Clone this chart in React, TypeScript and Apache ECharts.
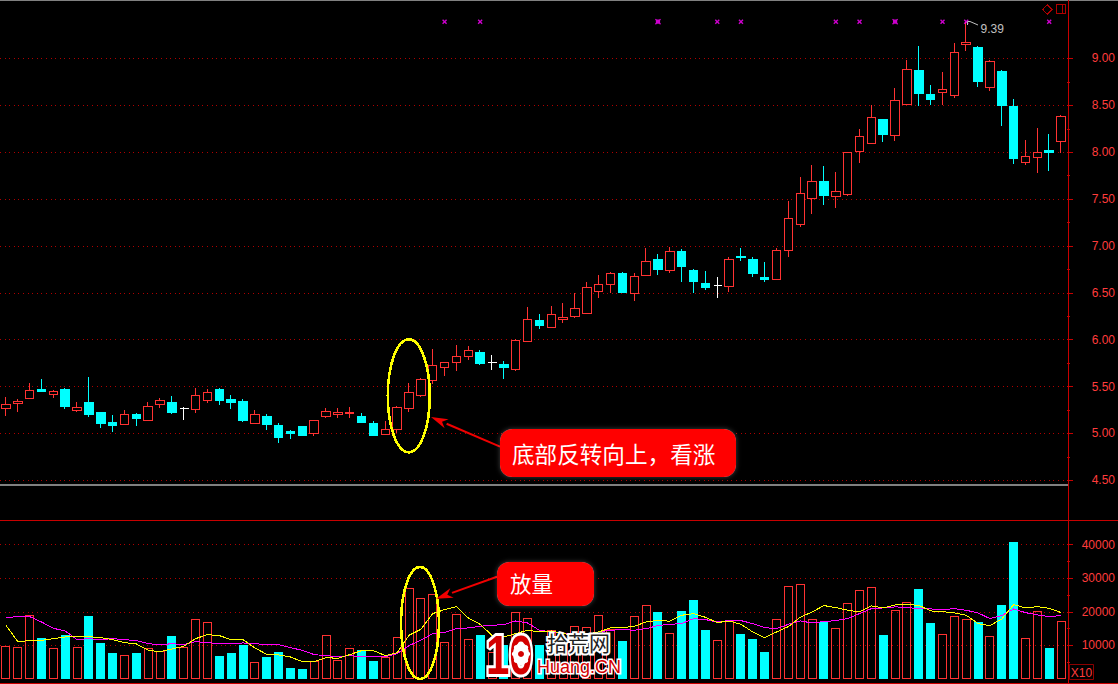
import React, { useEffect, useRef } from "react";
import * as echarts from "echarts";

// Price data (90 sessions)
const opens = [
  5.262, 5.316, 5.376, 5.472, 5.411, 5.472, 5.248, 5.333, 5.227, 5.121,
  5.099, 5.206, 5.142, 5.312, 5.333, 5.266, 5.259, 5.355, 5.472, 5.365,
  5.344, 5.11, 5.184, 5.089, 5.025, 5.078, 5.0, 5.177, 5.199, 5.21,
  5.184, 5.106, 4.986, 5.043, 5.266, 5.4, 5.564, 5.702, 5.755, 5.819,
  5.865, 5.755, 5.738, 5.677, 5.986, 6.206, 6.135, 6.22, 6.252, 6.284,
  6.518, 6.592, 6.706, 6.496, 6.688, 6.855, 6.741, 6.94, 6.738, 6.6,
  6.574, 6.57, 6.887, 6.855, 6.663, 6.645, 6.954, 7.23, 7.507, 7.686,
  7.529, 7.546, 8.011, 8.096, 8.35, 8.182, 8.504, 8.875, 8.618, 8.632,
  8.6, 9.146, 9.121, 8.686, 8.864, 8.489, 7.893, 7.946, 8.014, 8.118,
];
const closes = [
  5.312, 5.344, 5.457, 5.447, 5.447, 5.291, 5.277, 5.206, 5.11, 5.089,
  5.206, 5.163, 5.291, 5.355, 5.227, 5.266, 5.408, 5.44, 5.355, 5.333,
  5.142, 5.206, 5.099, 4.961, 5.004, 4.982, 5.138, 5.234, 5.223, 5.22,
  5.113, 4.982, 5.043, 5.277, 5.436, 5.574, 5.723, 5.755, 5.819, 5.883,
  5.748, 5.755, 5.699, 5.989, 6.213, 6.152, 6.266, 6.234, 6.33, 6.553,
  6.585, 6.702, 6.504, 6.67, 6.83, 6.748, 6.936, 6.78, 6.62, 6.557,
  6.574, 6.851, 6.88, 6.706, 6.642, 6.947, 7.298, 7.564, 7.691, 7.536,
  7.586, 7.996, 8.164, 8.368, 8.189, 8.55, 8.882, 8.629, 8.564, 8.668,
  9.064, 9.171, 8.757, 8.968, 8.5, 7.932, 7.95, 7.993, 8.0, 8.379,
];
const lows = [
  5.184, 5.227, 5.365, 5.44, 5.376, 5.259, 5.227, 5.174, 5.057, 5.014,
  5.099, 5.078, 5.142, 5.27, 5.206, 5.142, 5.216, 5.323, 5.301, 5.259,
  5.121, 5.11, 5.035, 4.897, 4.94, 4.97, 4.975, 5.16, 5.16, 5.16,
  5.113, 4.975, 4.986, 5.0, 5.23, 5.387, 5.525, 5.61, 5.67, 5.78,
  5.727, 5.674, 5.578, 5.667, 5.986, 6.11, 6.135, 6.174, 6.23, 6.284,
  6.443, 6.496, 6.496, 6.418, 6.688, 6.695, 6.716, 6.62, 6.493, 6.525,
  6.45, 6.504, 6.844, 6.674, 6.62, 6.645, 6.887, 7.206, 7.344, 7.44,
  7.4, 7.536, 7.889, 8.096, 8.104, 8.118, 8.504, 8.489, 8.5, 8.5,
  8.575, 9.079, 8.693, 8.65, 8.275, 7.879, 7.868, 7.782, 7.804, 7.996,
];
const highs = [
  5.387, 5.365, 5.535, 5.578, 5.461, 5.482, 5.333, 5.599, 5.227, 5.195,
  5.248, 5.216, 5.333, 5.376, 5.397, 5.28, 5.482, 5.472, 5.482, 5.408,
  5.365, 5.248, 5.206, 5.11, 5.035, 5.08, 5.138, 5.266, 5.266, 5.277,
  5.223, 5.128, 5.128, 5.291, 5.543, 5.596, 5.904, 5.766, 5.947, 5.929,
  5.887, 5.833, 5.77, 6.011, 6.344, 6.27, 6.355, 6.387, 6.493, 6.62,
  6.695, 6.727, 6.727, 6.716, 6.982, 6.918, 6.989, 6.972, 6.759, 6.738,
  6.674, 6.887, 6.982, 6.887, 6.833, 6.982, 7.482, 7.738, 7.865, 7.857,
  7.793, 8.004, 8.25, 8.507, 8.35, 8.682, 8.982, 9.132, 8.714, 8.854,
  9.164, 9.393, 9.132, 8.979, 8.875, 8.564, 8.125, 8.254, 8.189, 8.393,
];

// Volume data
const volumes = [
  9930, 9630, 19165, 12115, 9330, 13000, 9630, 18670, 10625, 7650,
  7250, 7650, 9330, 8440, 12710, 9500, 17970, 17080, 6750, 7650,
  10030, 5160, 6450, 7940, 3180, 2880, 5460, 13200, 5760, 9330,
  8540, 5260, 6550, 12400, 27200, 24200, 25220, 11120, 19460, 12000,
  13000, 7940, 10000, 20060, 18270, 10030, 14500, 11000, 15890, 15500,
  19165, 15000, 11200, 18870, 22140, 19860, 13800, 20160, 23430, 14500,
  11720, 17280, 13300, 11820, 7940, 17970, 27800, 28400, 17970, 16880,
  15290, 22740, 26610, 27510, 13000, 20650, 23040, 26710, 16580, 13500,
  18870, 17970, 16880, 12910, 21950, 40700, 12310, 20360, 9140, 17180,
];
const volumeDown = [
  0, 0, 0, 1, 0, 1, 0, 1, 1, 1,
  0, 1, 0, 0, 1, 0, 0, 0, 1, 1,
  1, 0, 1, 1, 1, 1, 0, 0, 0, 0,
  1, 1, 0, 0, 0, 0, 0, 0, 0, 0,
  1, 0, 1, 0, 0, 1, 0, 0, 0, 0,
  0, 0, 1, 0, 0, 1, 0, 1, 1, 1,
  0, 0, 1, 1, 1, 0, 0, 0, 0, 1,
  0, 0, 0, 0, 1, 0, 0, 1, 1, 0,
  0, 0, 1, 0, 1, 1, 0, 0, 1, 0,
];
const maShort = [
  15990, 11120, 11420, 11520, 12015, 12510, 12610, 12610, 12310, 11720,
  10820, 10430, 8540, 8140, 8940, 9730, 12015, 13200, 12910, 11720,
  11720, 9230, 7350, 7150, 6550, 5160, 5160, 6355, 6160, 7250,
  8440, 8440, 6950, 7845, 13000, 14800, 19460, 20650, 21550, 18170,
  16285, 13000, 12500, 13500, 14500, 14000, 14300, 13500, 13000, 13300,
  14000, 15200, 15290, 15690, 16980, 17480, 17180, 18970, 19460, 18370,
  16780, 17280, 16285, 14000, 12310, 14000, 15590, 18370, 19960, 21850,
  21250, 20460, 19960, 21750, 21150, 22050, 22140, 21950, 20260, 20060,
  19660, 18970, 16480, 15890, 17870, 22140, 21150, 21550, 21050, 19760,
];
const maLong = [
  18270, 18570, 18570, 16980, 15090, 14300, 11720, 12015, 11720, 12015,
  11720, 11420, 10530, 10130, 10530, 10230, 11120, 10820, 10530, 10530,
  10725, 10530, 10230, 10230, 9330, 8540, 7250, 6950, 6650, 6950,
  6650, 6650, 6650, 7550, 9930, 11520, 13500, 13800, 14990, 15190,
  15690, 15990, 16190, 17280, 16680, 14500, 14000, 13500, 13500, 13300,
  14000, 14500, 14700, 14500, 14990, 15890, 16285, 16480, 17970, 17680,
  16980, 17380, 17380, 16480, 15290, 14990, 16285, 17280, 16680, 17080,
  17380, 17970, 19460, 20950, 21150, 21450, 21350, 20850, 20850, 20650,
  20950, 20460, 19660, 17970, 18870, 20850, 19760, 19070, 18570, 18870,
];

// Signal marks along the top
const markerSessions = [37, 40, 55, 60, 62, 70, 72, 75, 79, 81, 88];
const markerStrong = [55, 75];
const markerPrice = 9.393;

// Axis ticks
const priceTicks = [4.5, 5, 5.5, 6, 6.5, 7, 7.5, 8, 8.5, 9];
const priceMinorTicks = [4.75, 5.25, 5.75, 6.25, 6.75, 7.25, 7.75, 8.25, 8.75];
const volumeTicks = [10000, 20000, 30000, 40000];
const volumeMinorTicks = [5000, 15000, 25000, 35000];

const sessions = opens.map((_, i) => String(i));

const RED = "#ff3232";
const CYAN = "#00ffff";
const YELLOW = "#ffff00";
const MAGENTA = "#ff00ff";
const WHITE = "#ffffff";
const AXIS_RED = "#c80000";
const GRID_RED = "#b00000";
const GREY = "#808080";
const LABEL_FONT = "Liberation Sans";
const CJK_FONT = "Noto Sans CJK SC";

const CRISP_CSS = `
#kline svg path[stroke="${RED}"], #kline svg path[stroke="${CYAN}"], #kline svg path[stroke="${WHITE}"],
#kline svg path[stroke="${YELLOW}"], #kline svg path[stroke="${MAGENTA}"], #kline svg path[stroke="${AXIS_RED}"],
#kline svg path[stroke="${GRID_RED}"], #kline svg path[stroke="${GREY}"], #kline svg path[fill="${CYAN}"]
{ shape-rendering: crispEdges; }
`;

const X_PATH =
  "path://M0,2L2,0L5,3L8,0L10,2L7,5L10,8L8,10L5,7L2,10L0,8L3,5Z";
const X_STRONG_PATH =
  "path://M0,1.5L1.5,0L3,1.5H7L8.5,0L10,1.5L8.5,3V7L10,8.5L8.5,10L7,8.5H3L1.5,10L0,8.5L1.5,7V3Z";

const yBase = (
  gridIndex: number,
  min: number,
  max: number,
  ticks: number[],
  length: number,
  main: boolean,
) => ({
  type: "value",
  gridIndex,
  position: "right",
  min,
  max,
  scale: true,
  axisLine: { show: false },
  axisTick: {
    show: true,
    length,
    customValues: ticks,
    lineStyle: { color: AXIS_RED, width: 1 },
  },
  axisLabel: main
    ? {
        show: true,
        customValues: ticks,
        color: "#ff3c3c",
        fontFamily: LABEL_FONT,
        fontSize: 12,
        align: "right",
        margin: 48,
        formatter: (v: number) => (gridIndex === 0 ? v.toFixed(2) : String(v)),
      }
    : { show: false },
  splitLine: main
    ? {
        show: true,
        lineStyle: { color: GRID_RED, type: [1, 3.6], width: 1 },
      }
    : { show: false },
});

function lineEl(x1: number, y1: number, x2: number, y2: number, stroke: string, lineWidth: number, z = 1) {
  return { type: "line", z, silent: true, shape: { x1, y1, x2, y2 }, style: { stroke, lineWidth } };
}

function arrow(x1: number, y1: number, tipX: number, tipY: number, z = 60) {
  const dx = tipX - x1;
  const dy = tipY - y1;
  const len = Math.hypot(dx, dy);
  const ux = dx / len;
  const uy = dy / len;
  const bx = tipX - ux * 17;
  const by = tipY - uy * 17;
  return [
    { type: "line", z, silent: true, shape: { x1, y1, x2: bx, y2: by }, style: { stroke: "#f00000", lineWidth: 2 } },
    {
      type: "polygon",
      z,
      silent: true,
      shape: {
        points: [
          [tipX, tipY],
          [bx - uy * 5, by + ux * 5],
          [tipX - ux * 12, tipY - uy * 12],
          [bx + uy * 5, by - ux * 5],
        ],
      },
      style: { fill: "#f00000" },
    },
  ];
}

function bubble(x: number, y: number, width: number, height: number) {
  return {
    type: "rect",
    z: 70,
    silent: true,
    shape: { x, y, width, height, r: 12 },
    style: { fill: "#ff0000", shadowBlur: 5, shadowColor: "rgba(255,255,255,0.25)" },
  };
}

function buildGraphics() {
  const gearCx = 521;
  const gearCy = 654;
  const gearTeeth = [0, 45, 90, 135, 180, 225, 270, 315].map((deg) => ({
    type: "circle",
    z: 84,
    silent: true,
    shape: {
      cx: gearCx + Math.cos((deg * Math.PI) / 180) * 7,
      cy: gearCy + Math.sin((deg * Math.PI) / 180) * 9.5,
      r: 2.2,
    },
    style: { fill: "#ffffff" },
  }));
  return [
    lineEl(0, 0.5, 1118, 0.5, GREY, 1),
    lineEl(0, 485, 1068, 485, GREY, 2),
    lineEl(0, 520.5, 1118, 520.5, AXIS_RED, 1),
    lineEl(0, 683.5, 1118, 683.5, AXIS_RED, 1),
    lineEl(1068.5, 0, 1068.5, 684, AXIS_RED, 1),

    {
      type: "polygon",
      z: 5,
      silent: true,
      shape: { points: [[1047.3, 4.6], [1052, 9.3], [1047.3, 14], [1042.6, 9.3]] },
      style: { fill: "none", stroke: "#b00000", lineWidth: 1 },
    },
    { type: "rect", z: 5, silent: true, shape: { x: 1056.5, y: 4.5, width: 9, height: 9 }, style: { fill: "none", stroke: "#b00000", lineWidth: 1 } },
    lineEl(1062.5, 4.5, 1062.5, 13.5, "#b00000", 1, 5),

    { type: "rect", z: 5, silent: true, shape: { x: 1069.5, y: 664.5, width: 24, height: 15 }, style: { fill: "none", stroke: "#8c0000", lineWidth: 1 } },
    { type: "text", z: 6, silent: true, style: { x: 1081.5, y: 672.5, text: "X10", fill: "#ff3c3c", font: `12px "${LABEL_FONT}"`, align: "center", verticalAlign: "middle" } },

    { type: "polyline", z: 6, silent: true, shape: { points: [[967.5, 25], [967.5, 21.5], [970, 21.5], [978, 25]] }, style: { fill: "none", stroke: "#c0c0c0", lineWidth: 1 } },
    { type: "text", z: 6, silent: true, style: { x: 980.5, y: 29, text: "9.39", fill: "#c0c0c0", font: `12px "${LABEL_FONT}"`, align: "left", verticalAlign: "middle" } },

    { type: "ellipse", z: 50, silent: true, shape: { cx: 408.8, cy: 395.8, rx: 21, ry: 56.5 }, style: { fill: "none", stroke: "#ffff00", lineWidth: 2.6 } },
    { type: "ellipse", z: 50, silent: true, shape: { cx: 420, cy: 623, rx: 19, ry: 56 }, style: { fill: "none", stroke: "#ffff00", lineWidth: 2.6 } },

    ...arrow(500, 446.7, 431, 417),
    ...arrow(497, 576.7, 436, 598.7),

    bubble(500, 429, 236, 48),
    { type: "text", z: 71, silent: true, style: { x: 512, y: 453, text: "底部反转向上，看涨", fill: "#ffffff", font: `22.6px "${CJK_FONT}"`, align: "left", verticalAlign: "middle" } },
    bubble(497, 562, 97, 44),
    { type: "text", z: 71, silent: true, style: { x: 510, y: 582, text: "放量", fill: "#ffffff", font: `21.5px "${CJK_FONT}"`, align: "left", verticalAlign: "middle" } },

    // watermark
    {
      type: "text",
      z: 80,
      silent: true,
      x: 486,
      y: 654,
      scaleX: 0.75,
      scaleY: 1,
      style: { x: 0, y: 0, text: "10", fill: "#d40000", stroke: "#ffffff", lineWidth: 6, font: `bold 56px "${LABEL_FONT}"`, align: "left", verticalAlign: "middle" },
    },
    { type: "ellipse", z: 83, silent: true, shape: { cx: gearCx, cy: gearCy, rx: 8, ry: 11 }, style: { fill: "#ffffff" } },
    ...gearTeeth,
    { type: "circle", z: 85, silent: true, shape: { cx: gearCx, cy: gearCy, r: 3 }, style: { fill: "#d40000" } },
    { type: "text", z: 81, silent: true, style: { x: 547, y: 642, text: "拾荒网", fill: "#222222", stroke: "#ffffff", lineWidth: 4, font: `21px "${CJK_FONT}"`, align: "left", verticalAlign: "middle" } },
    { type: "text", z: 82, silent: true, style: { x: 537, y: 667, text: "Huang.CN", fill: "#d40000", stroke: "#ffffff", lineWidth: 3, font: `18px "${LABEL_FONT}"`, align: "left", verticalAlign: "middle" } },
  ];
}

function buildOption() {
  return {
    animation: false,
    backgroundColor: "#000000",
    grid: [
      { left: -0.6, width: 1068, top: 11.6, height: 468.7, containLabel: false },
      { left: -0.6, width: 1068, top: 511, height: 168, containLabel: false },
    ],
    xAxis: [
      { type: "category", gridIndex: 0, data: sessions, show: false },
      { type: "category", gridIndex: 1, data: sessions, show: false },
    ],
    yAxis: [
      yBase(0, 4.5, 9.5, priceTicks, 6, true),
      yBase(0, 4.5, 9.5, priceMinorTicks, 3, false),
      yBase(1, 0, 50000, volumeTicks, 6, true),
      yBase(1, 0, 50000, volumeMinorTicks, 3, false),
    ],
    series: [
      {
        type: "candlestick",
        xAxisIndex: 0,
        yAxisIndex: 0,
        barWidth: 9,
        data: opens.map((o, i) => [o, closes[i], lows[i], highs[i]]),
        itemStyle: {
          color: "#000000",
          color0: CYAN,
          borderColor: RED,
          borderColor0: CYAN,
          borderColorDoji: WHITE,
          borderWidth: 1,
        },
      },
      {
        type: "scatter",
        xAxisIndex: 0,
        yAxisIndex: 0,
        symbol: X_PATH,
        symbolSize: 5,
        itemStyle: { color: MAGENTA },
        data: markerSessions.map((i) =>
          markerStrong.includes(i)
            ? { value: [i, markerPrice], symbol: X_STRONG_PATH, symbolSize: 6 }
            : { value: [i, markerPrice] },
        ),
      },
      {
        type: "bar",
        xAxisIndex: 1,
        yAxisIndex: 2,
        barWidth: 9,
        data: volumes.map((v, i) => ({
          value: v,
          itemStyle: volumeDown[i]
            ? { color: CYAN, borderColor: CYAN, borderWidth: 0 }
            : { color: "rgba(0,0,0,0)", borderColor: RED, borderWidth: 1 },
        })),
      },
      {
        type: "line",
        xAxisIndex: 1,
        yAxisIndex: 2,
        data: maLong,
        showSymbol: false,
        lineStyle: { color: MAGENTA, width: 1 },
      },
      {
        type: "line",
        xAxisIndex: 1,
        yAxisIndex: 2,
        data: maShort,
        showSymbol: false,
        lineStyle: { color: YELLOW, width: 1 },
      },
    ],
    graphic: buildGraphics(),
  };
}

export default function App() {
  const ref = useRef<HTMLDivElement>(null);
  useEffect(() => {
    document.body.style.margin = "0";
    document.body.style.background = "#000";
    const chart = echarts.init(ref.current as HTMLDivElement, undefined, { renderer: "svg" });
    chart.setOption(buildOption() as any);
    return () => chart.dispose();
  }, []);
  return (
    <>
      <style>{CRISP_CSS}</style>
      <div id="kline" ref={ref} style={{ width: 1118, height: 684 }} />
    </>
  );
}
